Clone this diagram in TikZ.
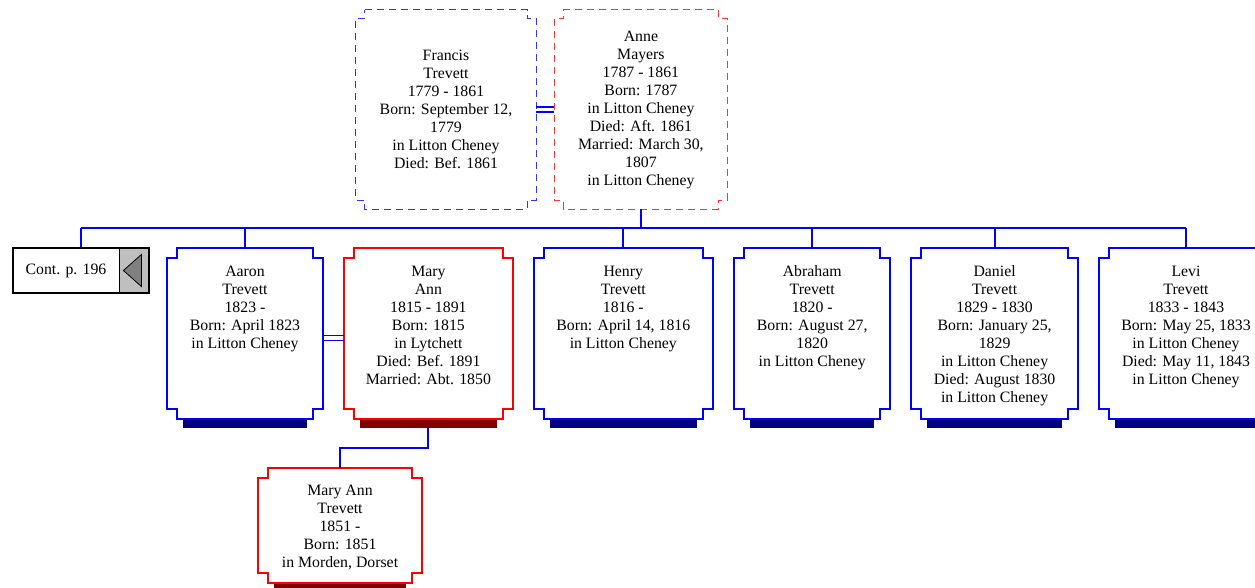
\documentclass[tikz,border=0pt]{standalone}
\usepackage{fontspec}
\setmainfont{Liberation Serif}
\usepackage{tikz}
\usepackage{xcolor}
\usetikzlibrary{positioning, fit}
\definecolor{navyshade}{RGB}{0,0,128}
\definecolor{maroonshade}{RGB}{128,0,0}
\newcommand{\kinlines}[1]{\begin{tabular}[t]{@{}c@{}}#1\end{tabular}}

\begin{document}
\begin{tikzpicture}[x=1pt, y=1pt,
    person/.style={rectangle, inner sep=0pt,
        font=\fontsize{15.8}{18}\selectfont},
    parent/.style={person, align=center, minimum height=199pt},
    child/.style={person, anchor=north, text height=28pt, text depth=143pt},
    link/.style={blue, line width=2pt}]
    \useasboundingbox (0,0) rectangle (1255,588);

    % Parents
    \node[parent, minimum width=180pt] (francis) at (446,478.5)
        {Francis\\Trevett\\1779 - 1861\\Born: September 12,\\1779\\in Litton Cheney\\Died: Bef. 1861};
    \node[parent, minimum width=173pt, right=18pt of francis] (anne)
        {Anne\\Mayers\\1787 - 1861\\Born: 1787\\in Litton Cheney\\Died: Aft. 1861\\Married: March 30,\\1807\\in Litton Cheney};

    % Children
    \node[child, minimum width=156pt] (aaron) at (245,340)
        {\kinlines{Aaron\\Trevett\\1823 -\\Born: April 1823\\in Litton Cheney}};
    \node[child, minimum width=168pt, right=21pt of aaron] (maryann)
        {\kinlines{Mary\\Ann\\1815 - 1891\\Born: 1815\\in Lytchett\\Died: Bef. 1891\\Married: Abt. 1850}};
    \node[child, minimum width=179pt, right=21pt of maryann] (henry)
        {\kinlines{Henry\\Trevett\\1816 -\\Born: April 14, 1816\\in Litton Cheney}};
    \node[child, minimum width=156pt, right=21pt of henry] (abraham)
        {\kinlines{Abraham\\Trevett\\1820 -\\Born: August 27,\\1820\\in Litton Cheney}};
    \node[child, minimum width=166pt, right=21pt of abraham] (daniel)
        {\kinlines{Daniel\\Trevett\\1829 - 1830\\Born: January 25,\\1829\\in Litton Cheney\\Died: August 1830\\in Litton Cheney}};
    \node[child, minimum width=174pt, right=21pt of daniel] (levi)
        {\kinlines{Levi\\Trevett\\1833 - 1843\\Born: May 25, 1833\\in Litton Cheney\\Died: May 11, 1843\\in Litton Cheney}};

    % Grandchild
    \node[child, minimum width=164pt, text height=27.5pt, text depth=87.5pt] (grandchild) at (340,120)
        {\kinlines{Mary Ann\\Trevett\\1851 -\\Born: 1851\\in Morden, Dorset}};

    % Continuation box
    \node[person, minimum width=106pt, minimum height=45pt] (contlabel) at (66,317.5) {Cont. p. 196};
    \node[rectangle, draw, fill=gray!50, minimum width=29pt, minimum height=45pt, inner sep=0pt,
        right=0pt of contlabel] (contarrow) {};
    \filldraw[fill=gray, draw=black, line width=0.8pt] ([xshift=-10.5pt]contarrow.center)
        -- ([xshift=7.5pt, yshift=16pt]contarrow.center) -- ([xshift=7.5pt, yshift=-16pt]contarrow.center) -- cycle;
    \node[fit=(contlabel)(contarrow), draw, line width=2pt, inner sep=0pt] (cont) {};

    % Box outlines and shadows
    \foreach \n/\c/\s in {aaron/blue/navyshade, maryann/red/maroonshade, henry/blue/navyshade,
        abraham/blue/navyshade, daniel/blue/navyshade, levi/blue/navyshade, grandchild/red/maroonshade} {
        \fill[\s] ([xshift=16pt, yshift=-1pt]\n.south west) rectangle ([xshift=-16pt, yshift=-9pt]\n.south east);
        \draw[\c, line width=2pt] ([xshift=10pt]\n.north west) -- ([xshift=-10pt]\n.north east)
            -- ++(0,-10) -- ++(10,0) -- ([yshift=10pt]\n.south east) -- ++(-10,0) -- ++(0,-10)
            -- ([xshift=10pt]\n.south west) -- ++(0,10) -- ++(-10,0) -- ([yshift=-10pt]\n.north west)
            -- ++(10,0) -- cycle;
    }
    \foreach \n/\c in {francis/blue, anne/red} {
        \draw[\c!80, line width=1.2pt, dash pattern=on 7pt off 5pt] ([xshift=9pt]\n.north west) -- ([xshift=-9pt]\n.north east)
            -- ++(0,-9) -- ++(9,0) -- ([yshift=9pt]\n.south east) -- ++(-9,0) -- ++(0,-9)
            -- ([xshift=9pt]\n.south west) -- ++(0,9) -- ++(-9,0) -- ([yshift=-9pt]\n.north west)
            -- ++(9,0) -- cycle;
    }

    % Marriages
    \draw[blue, line width=1.3pt] ([yshift=2.5pt]francis.east) -- ([yshift=2.5pt]anne.west);
    \draw[blue, line width=1.3pt] ([yshift=-2.5pt]francis.east) -- ([yshift=-2.5pt]anne.west);
    \draw[blue, line width=1.3pt] ([yshift=-1.5pt]aaron.east) -- ([yshift=-1.5pt]maryann.west);
    \draw[blue, line width=1.3pt] ([yshift=-6.5pt]aaron.east) -- ([yshift=-6.5pt]maryann.west);

    % Descent lines
    \coordinate (bus) at (641,359.5);
    \draw[link] (anne.south) -- (anne.south |- bus);
    \draw[link] (cont.north |- bus) -- (levi.north |- bus);
    \foreach \n in {cont, aaron, henry, abraham, daniel, levi}
        \draw[link] (\n.north) -- (\n.north |- bus);
    \draw[link] ([yshift=-9pt]maryann.south) -- ++(0,-20) -| (grandchild.north);
\end{tikzpicture}
\end{document}
